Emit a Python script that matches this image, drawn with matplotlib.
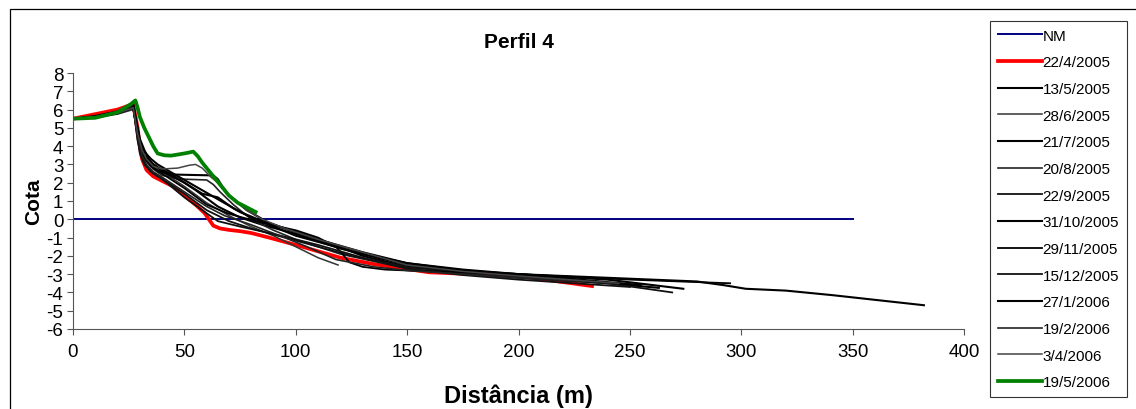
import matplotlib.pyplot as plt
from matplotlib.patches import Rectangle

# perfil 4 - cota vs distancia, uma linha por levantamento
dates = ['22/4/2005', '13/5/2005', '28/6/2005', '21/7/2005', '20/8/2005',
         '22/9/2005', '31/10/2005', '29/11/2005', '15/12/2005', '27/1/2006',
         '19/2/2006', '3/4/2006', '19/5/2006']

nm_x = [0, 350]
nm_y = [0, 0]

x_220405 = [0, 10, 20, 27, 29, 30, 31, 33, 36, 40, 45, 51, 55, 59, 61, 63, 66, 70, 75, 80, 88, 100, 110, 120, 135, 160, 180, 200, 233]
y_220405 = [5.5, 5.75, 6.0, 6.3, 5.0, 4.0, 3.3, 2.7, 2.35, 2.1, 1.8, 1.2, 0.8, 0.35, 0.0, -0.35, -0.5, -0.58, -0.65, -0.75, -1.0, -1.4, -1.75, -2.1, -2.45, -2.9, -3.0, -3.1, -3.65]

x_130505 = [0, 10, 20, 27, 29, 30, 32, 35, 38, 45, 55, 65, 75, 85, 100, 120, 150, 175, 200, 240, 263]
y_130505 = [5.5, 5.6, 5.8, 6.2, 5.0, 4.2, 3.5, 3.1, 2.85, 2.4, 1.6, 0.7, 0.1, -0.3, -0.8, -1.6, -2.5, -2.85, -3.1, -3.5, -3.75]

x_280605 = [0, 10, 20, 27, 29, 31, 33, 36, 40, 50, 60, 70, 80, 90, 100, 110, 119]
y_280605 = [5.5, 5.55, 5.75, 6.0, 4.8, 3.8, 3.2, 2.85, 2.6, 1.8, 0.9, 0.2, -0.4, -0.9, -1.5, -2.1, -2.5]

x_210705 = [0, 10, 20, 27, 29, 30, 32, 35, 38, 44, 55, 63, 65, 67, 70, 78, 88, 100, 115, 130, 150, 175, 200, 240, 274]
y_210705 = [5.5, 5.6, 5.8, 6.1, 4.8, 4.0, 3.4, 2.9, 2.65, 2.45, 2.42, 2.4, 2.2, 1.8, 1.3, 0.5, -0.2, -0.7, -1.3, -2.0, -2.6, -2.85, -3.0, -3.3, -3.8]

x_200805 = [0, 10, 20, 27, 29, 31, 33, 36, 40, 48, 60, 63, 66, 72, 80, 90, 100, 120, 150, 175, 200, 240]
y_200805 = [5.5, 5.6, 5.85, 6.2, 4.6, 3.7, 3.2, 2.75, 2.4, 2.2, 2.15, 1.9, 1.5, 0.8, 0.0, -0.6, -1.1, -1.9, -2.7, -3.0, -3.2, -3.5]

x_220905 = [0, 10, 20, 27, 29, 30, 32, 35, 40, 50, 60, 70, 80, 95, 110, 125, 150, 175, 200, 240, 269]
y_220905 = [5.5, 5.6, 5.8, 6.2, 4.4, 3.6, 3.0, 2.6, 2.2, 1.4, 0.5, -0.1, -0.5, -1.0, -1.5, -2.0, -2.6, -2.95, -3.2, -3.5, -4.0]

x_311005 = [0, 10, 20, 27, 29, 30, 32, 35, 38, 45, 55, 65, 75, 85, 95, 110, 130, 150, 175, 200, 240, 280, 292, 302, 320, 341, 382]
y_311005 = [5.5, 5.6, 5.85, 6.3, 4.9, 4.3, 3.7, 3.3, 3.0, 2.5, 1.8, 1.1, 0.4, -0.1, -0.5, -1.1, -1.8, -2.4, -2.8, -3.0, -3.2, -3.4, -3.6, -3.8, -3.9, -4.15, -4.7]

x_291105 = [0, 10, 20, 27, 29, 30, 32, 36, 40, 50, 60, 70, 85, 100, 110, 118, 121, 124, 130, 140, 150, 175, 200, 250, 295]
y_291105 = [5.5, 5.6, 5.8, 6.1, 4.7, 4.0, 3.3, 2.8, 2.5, 1.7, 0.8, 0.3, -0.2, -0.6, -1.0, -1.5, -1.9, -2.35, -2.6, -2.75, -2.8, -2.9, -3.0, -3.3, -3.5]

x_151205 = [0, 10, 20, 27, 29, 31, 33, 36, 40, 50, 58, 65, 75, 90, 110, 130, 150, 175, 200, 250]
y_151205 = [5.5, 5.6, 5.8, 6.2, 4.3, 3.4, 2.9, 2.5, 2.2, 1.2, 0.5, -0.1, -0.4, -0.8, -1.4, -2.1, -2.7, -3.05, -3.3, -3.7]

x_270106 = [0, 10, 20, 27, 29, 30, 32, 34, 36, 42, 50, 58, 65, 72, 80, 90, 100, 115, 130, 150, 175, 200, 255]
y_270106 = [5.5, 5.65, 5.9, 6.3, 5.0, 4.4, 3.8, 3.3, 3.0, 2.5, 2.0, 1.4, 1.2, 0.6, 0.1, -0.4, -0.9, -1.4, -1.9, -2.4, -2.75, -3.0, -3.6]

x_190206 = [0, 10, 20, 27, 29, 31, 33, 36, 40, 50, 60, 68, 80, 95, 105, 118, 135, 150, 175, 200, 230]
y_190206 = [5.5, 5.6, 5.8, 6.1, 4.5, 3.5, 3.0, 2.6, 2.3, 1.5, 0.7, 0.2, -0.3, -1.0, -1.5, -2.2, -2.6, -2.8, -3.0, -3.2, -3.4]

x_030406 = [0, 10, 20, 27, 29, 31, 33, 36, 40, 47, 52, 55, 58, 62, 65, 70, 78, 85, 95, 110, 130, 150, 175, 200, 245]
y_030406 = [5.5, 5.6, 5.8, 6.1, 4.7, 3.8, 3.3, 2.9, 2.75, 2.8, 2.95, 3.0, 2.8, 2.3, 2.0, 1.3, 0.5, 0.0, -0.5, -1.1, -1.8, -2.5, -2.85, -3.1, -3.5]

x_190506 = [0, 10, 20, 26, 28, 29, 30, 32, 34, 36, 38, 41, 44, 50, 54, 56, 58, 62, 66, 70, 74, 78, 82]
y_190506 = [5.5, 5.55, 5.85, 6.3, 6.5, 6.1, 5.6, 5.0, 4.5, 4.0, 3.6, 3.5, 3.48, 3.6, 3.7, 3.45, 3.1, 2.5, 1.9, 1.3, 0.9, 0.65, 0.4]

xs = [x_220405, x_130505, x_280605, x_210705, x_200805, x_220905, x_311005,
      x_291105, x_151205, x_270106, x_190206, x_030406, x_190506]
ys = [y_220405, y_130505, y_280605, y_210705, y_200805, y_220905, y_311005,
      y_291105, y_151205, y_270106, y_190206, y_030406, y_190506]

# cor / espessura de cada levantamento
colors = ['red'] + ['black', '#333333', 'black', '#222222', '#111111', 'black',
                    'black', '#111111', 'black', '#222222', '#444444'] + ['green']
widths = [2.7] + [1.5, 1.1, 1.5, 1.2, 1.3, 1.5, 1.3, 1.3, 1.5, 1.2, 1.1] + [2.7]

plt.rcParams['font.family'] = ['Liberation Sans', 'DejaVu Sans']
plt.rcParams['axes.unicode_minus'] = False
fig = plt.figure(figsize=(11.36, 4.1), dpi=100)
ax = fig.add_axes([73 / 1136, 1 - 330 / 410, (964 - 73) / 1136, (330 - 74) / 410])

ax.plot(nm_x, nm_y, color='#000080', lw=1.4, label='NM')
for i in range(len(dates)):
    ax.plot(xs[i], ys[i], color=colors[i], lw=widths[i], label=dates[i])

ax.set_xlim(0, 400)
ax.set_ylim(-6, 8)
ax.set_xticks(range(0, 401, 50))
ax.set_yticks(range(-6, 9))
ax.tick_params(direction='out', length=4, labelsize=13.5, color='#555555', pad=3)
ax.tick_params(axis='x', pad=6)
ax.spines['top'].set_visible(False)
ax.spines['right'].set_visible(False)
ax.spines['left'].set_color('#555555')
ax.spines['bottom'].set_color('#555555')

ax.set_title('Perfil 4', fontsize=15, fontweight='bold', pad=19)
ax.set_xlabel('Distância (m)', fontsize=17, fontweight='bold', labelpad=17)
ax.set_ylabel('Cota', fontsize=15, fontweight='bold', labelpad=2)

leg = fig.legend(loc='upper left', bbox_to_anchor=(990 / 1136, 1 - 22 / 410),
                 fontsize=11, handlelength=2.9, handletextpad=0.05,
                 labelspacing=0.83, borderaxespad=0, fancybox=False,
                 edgecolor='black', borderpad=0.5)
leg.get_frame().set_linewidth(0.8)

# moldura da figura
fig.patches.append(Rectangle((10 / 1136, -0.1), 1.2, 1 - 10 / 410 + 0.1,
                             transform=fig.transFigure, fill=False,
                             edgecolor='black', lw=0.9))

fig.savefig('out.png', dpi=100)
